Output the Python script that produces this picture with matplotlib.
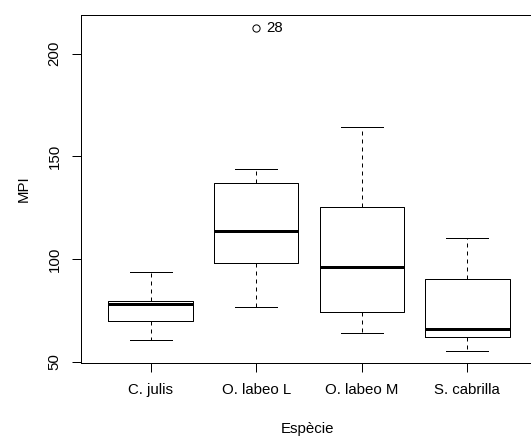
import matplotlib
matplotlib.use("Agg")
import matplotlib.pyplot as plt

# ---- data ----
categories = ["C. julis", "O. labeo L", "O. labeo M", "S. cabrilla"]
whislo = [60.6, 76.8, 64.0, 55.4]
q1 = [69.7, 98.1, 74.1, 62.2]
med = [78.1, 113.8, 96.0, 65.8]
q3 = [79.7, 137.1, 125.2, 90.1]
whishi = [93.8, 143.7, 164.1, 110.1]
fliers = [[], [212.3], [], []]
flier_labels = [[], ["28"], [], []]
yticks = [50, 100, 150, 200]
xlabel = "Espècie"
ylabel = "MPI"

plt.rcParams['font.family'] = ['Liberation Sans', 'DejaVu Sans']
FS = 10.8
PX = 0.72  # one pixel in points at dpi 100

fig = plt.figure(figsize=(5.31, 4.37), dpi=100)
ax = fig.add_axes([81/531, 1-363.3/437, (537-81)/531, (363.3-15)/437])

stats = []
for i, c in enumerate(categories):
    stats.append(dict(label=c, whislo=whislo[i], q1=q1[i], med=med[i], q3=q3[i],
                      whishi=whishi[i], fliers=fliers[i]))

positions = list(range(1, len(categories) + 1))
ax.bxp(stats, positions=positions, widths=0.8, capwidths=0.4,
       boxprops=dict(color='black', lw=PX),
       whiskerprops=dict(color='black', lw=PX, linestyle=(0, (4, 4))),
       capprops=dict(color='black', lw=PX),
       medianprops=dict(color='black', lw=3*PX, solid_capstyle='butt'),
       flierprops=dict(marker='o', markerfacecolor='none', markeredgecolor='black',
                       markersize=5.2, markeredgewidth=PX))

for i, (fl, lb) in enumerate(zip(fliers, flier_labels)):
    for v, t in zip(fl, lb):
        ax.annotate(t, xy=(positions[i], v), xytext=(7, -2.9), textcoords='offset points',
                    ha='left', va='baseline', fontsize=FS)

ax.set_xlim(0.34, 4.66)
ax.set_ylim(49.22, 218.8)
ax.set_xticks(positions)
ax.set_xticklabels(categories, fontsize=FS)
ax.set_yticks(yticks)
ax.set_yticklabels([str(v) for v in yticks], fontsize=FS, rotation=90, va='center')
for s in ax.spines.values():
    s.set_linewidth(PX)
    s.set_color('black')
ax.tick_params(axis='both', length=6.5, width=PX, color='black', pad=7.5)

fig.text(308/531, 1-433.5/437, xlabel, ha='center', va='baseline', fontsize=FS)
fig.text(28/531, 1-189/437, ylabel, ha='center', va='baseline', rotation=90,
         fontsize=FS, rotation_mode='anchor')

fig.savefig("out.png", dpi=100)
